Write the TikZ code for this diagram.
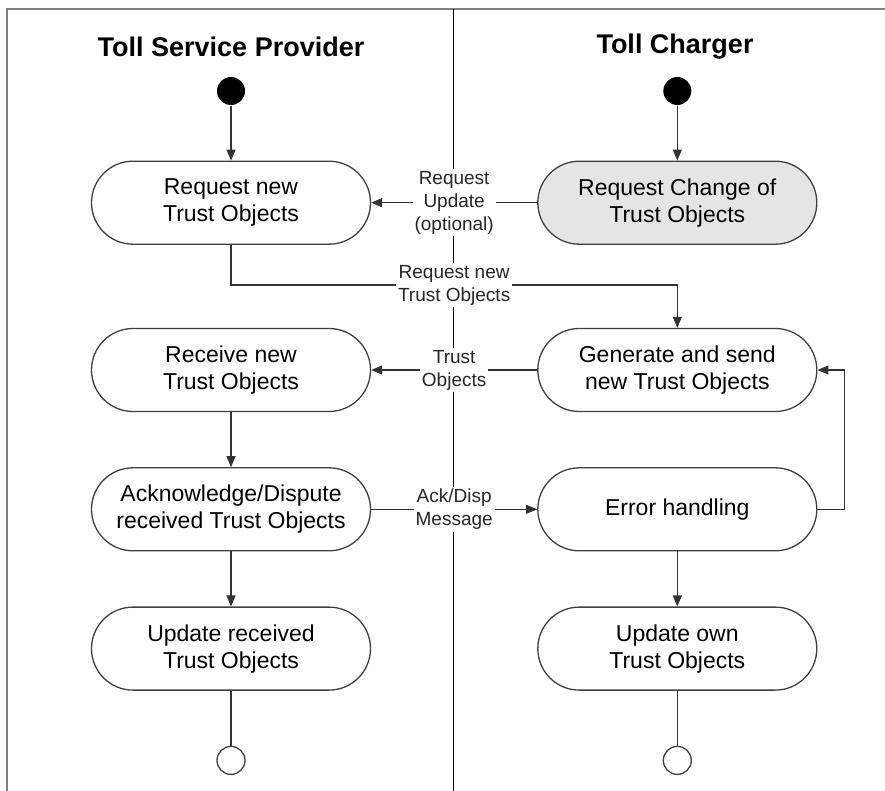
\documentclass[tikz,border=0pt]{standalone}
\usepackage{fontspec}
\setmainfont{Liberation Sans}
\usetikzlibrary{arrows.meta, positioning}

\begin{document}
\begin{tikzpicture}[x=1pt,y=-1pt,>={Triangle[length=11pt,width=9pt]},
                    line width=1.1pt,draw=black!80,node distance=55pt]
  \tikzstyle{activity}=[draw=black!75,line width=1.3pt,rounded corners=41.5pt,
                        minimum width=279pt,minimum height=83pt,inner sep=0pt,
                        align=center,fill=white,font=\fontsize{23}{27}\selectfont]
  \tikzstyle{start}=[circle,fill=black,minimum size=28pt,inner sep=0pt]
  \tikzstyle{final}=[circle,draw=black!75,line width=1.3pt,fill=white,minimum size=28pt,inner sep=0pt]
  \tikzstyle{msg}=[fill=white,align=center,inner sep=2pt,text=black!85,
                   font=\fontsize{19}{23}\selectfont]
  \tikzstyle{lane}=[font=\bfseries\fontsize{27}{32}\selectfont]

  \useasboundingbox (0,0) rectangle (885,791);

  % swimlanes
  \draw[black!50,line width=2.5pt] (885,9) -- (7,9) -- (7,791);
  \draw[black,line width=1pt] (453,9) -- (453,791);
  \node[lane] (tspTitle) at (231,47) {Toll Service Provider};
  \node[lane] (tcTitle)  at (675,47) {Toll Charger};

  % Toll Service Provider
  \node[start]    (tspStart)  at (231,91)          {};
  \node[activity] (tspReq)    [below=of tspStart] {Request new\\Trust Objects};
  \node[activity] (tspRecv)   [below=83pt of tspReq] {Receive new\\Trust Objects};
  \node[activity] (tspAck)    [below=of tspRecv] {Acknowledge/Dispute\\received Trust Objects};
  \node[activity] (tspUpdate) [below=of tspAck]  {Update received\\Trust Objects};
  \node[final]    (tspEnd)    [below=of tspUpdate] {};

  % Toll Charger
  \node[activity,fill=black!10] (tcChange) [right=166pt of tspReq] {Request Change of\\Trust Objects};
  \node[start]    (tcStart)   [above=of tcChange] {};
  \node[activity] (tcGen)     [right=166pt of tspRecv] {Generate and send\\new Trust Objects};
  \node[activity] (tcError)   [right=166pt of tspAck]  {Error handling};
  \node[activity] (tcUpdate)  [right=166pt of tspUpdate] {Update own\\Trust Objects};
  \node[final]    (tcEnd)     [below=of tcUpdate] {};

  \path[->] (tspStart) edge (tspReq)
            (tspRecv)  edge (tspAck)
            (tspAck)   edge (tspUpdate)
            (tcStart)  edge (tcChange)
            (tcError)  edge (tcUpdate)
            (tcChange) edge node[msg] {Request\\Update\\(optional)} (tspReq)
            (tcGen)    edge node[msg] {Trust\\Objects} (tspRecv)
            (tspAck)   edge node[msg] {Ack/Disp\\Message} (tcError);

  \draw[->] (tspReq.south) -- (tspReq.south |- 0,285)
            -- node[msg] {Request new\\Trust Objects} (tcGen.north |- 0,285)
            -- (tcGen.north);
  \draw[->] (tcError.east) -- ++(27,0) |- (tcGen.east);

  \draw (tspUpdate) -- (tspEnd);
  \draw (tcUpdate) -- (tcEnd);
\end{tikzpicture}
\end{document}
